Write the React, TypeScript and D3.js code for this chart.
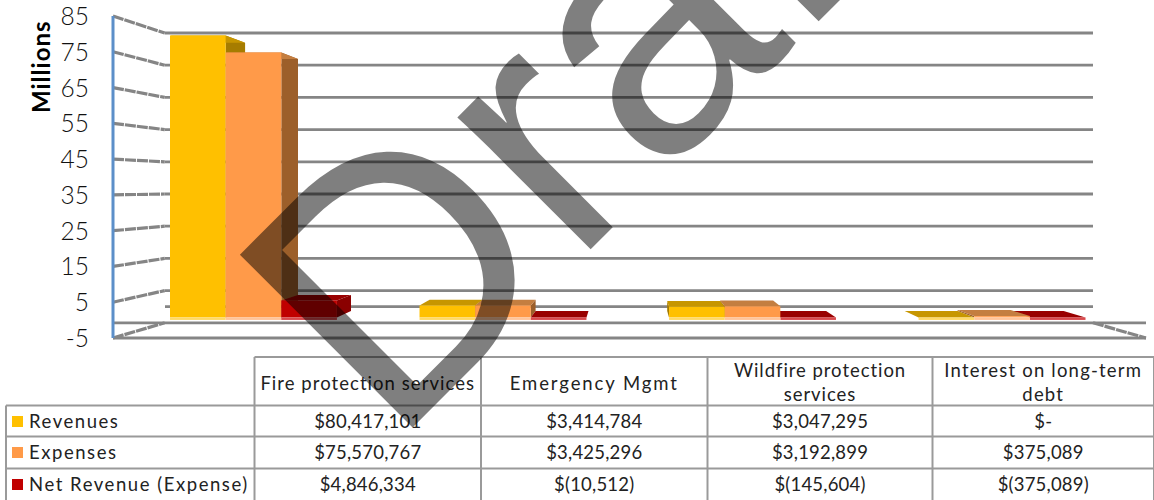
import React from "react";
import * as d3 from "d3";

const categories = ["Fire protection services", "Emergency Mgmt", "Wildfire protection services", "Interest on long-term debt"];
const headerLines = [["Fire protection services"], ["Emergency Mgmt"], ["Wildfire protection", "services"], ["Interest on long-term", "debt"]];
const seriesNames = ["Revenues", "Expenses", "Net Revenue (Expense)"];
const revenues = [80.417101, 3.414784, 3.047295, 0];
const expenses = [75.570767, 3.425296, 3.192899, 0.375089];
const netRevenue = [4.846334, -0.010512, -0.145604, -0.375089];
const revenuesText = ["$80,417,101", "$3,414,784", "$3,047,295", "$-"];
const expensesText = ["$75,570,767", "$3,425,296", "$3,192,899", "$375,089"];
const netText = ["$4,846,334", "$(10,512)", "$(145,604)", "$(375,089)"];
const yTicks = [85, 75, 65, 55, 45, 35, 25, 15, 5, -5];
const front = ["#FFC000", "#FF9A48", "#C00000"];
const topFace = ["#C79600", "#C47E40", "#990000"];
const sideFace = ["#A67C00", "#9C5F2B", "#8A0000"];
const strip = ["#FFD966", "#FFC49A", "#D9484C"];
const headerSpacing = [1.05, 1.9, 0.95, 1.2];

const FONT = "Lato, 'Open Sans', sans-serif";
const GRID = "#858585";
const vx = 630, vy = 186;
const BAR_K0 = 0.02, BAR_K1 = 0.068, WALL_K = 0.1;

const px = (x: number, k: number) => x + (vx - x) * k;
const py = (y: number, k: number) => y + (vy - y) * k;

const yFront = d3.scaleLinear().domain([-5, 85]).range([338, 16]);
const xGroup = d3.scaleBand<number>().domain([0, 1, 2, 3]).range([170, 1085.5]).paddingInner(0.331).paddingOuter(0);
const xSeries = d3.scaleBand<number>().domain([0, 1, 2]).range([0, xGroup.bandwidth()]);

function pts(p: [number, number][]) {
  return p.map(([a, b]) => `${a.toFixed(1)},${b.toFixed(1)}`).join(" ");
}

function Bar({ g, s, v }: { g: number; s: number; v: number }) {
  const x0f = (xGroup(g) as number) + (xSeries(s) as number);
  const x1f = x0f + xSeries.bandwidth();
  const dk = BAR_K1 - BAR_K0;
  const zero = py(yFront(0), BAR_K0);
  const val = py(yFront(Math.max(v, 0)), BAR_K0);
  const base = zero + 2.5;
  const bx = (x: number) => x + (vx - x) * dk;
  const by = (y: number) => y + (vy - y) * dk;
  const edge = x1f < vx ? x1f : x0f;
  return (
    <g>
      <polygon points={pts([[edge, val], [bx(edge), by(val)], [bx(edge), by(zero)], [edge, zero]])} fill={sideFace[s]} />
      <polygon points={pts([[x0f, val], [bx(x0f), by(val)], [bx(x1f), by(val)], [x1f, val]])} fill={topFace[s]} />
      <rect x={x0f} y={val} width={x1f - x0f} height={Math.max(zero - val, 0)} fill={front[s]} />
      <rect x={x0f} y={zero} width={x1f - x0f} height={base - zero} fill={strip[s]} />
    </g>
  );
}

const colX = [254.5, 481, 707.5, 932.5, 1154];
const rowY = [357, 405.5, 436.5, 468.5, 500];
const tableRows = [revenuesText, expensesText, netText];

export default function App() {
  const seriesValues = [revenues, expenses, netRevenue];
  const tableStroke = "#9a9a9a";
  const tfs = 18.5;
  return (
    <svg width={1154} height={500} style={{ position: "fixed", left: 0, top: 0, display: "block", background: "#fff" }} fontFamily={FONT}>
      <defs>
        <filter id="soft" x="-2%" y="-2%" width="104%" height="104%">
          <feGaussianBlur stdDeviation="0.45" />
        </filter>
      </defs>
      <g filter="url(#soft)">
        {yTicks.map((t) => {
          const yf = yFront(t), yb = py(yf, WALL_K);
          return (
            <g key={t}>
              <line x1={px(113, 0)} y1={yf} x2={px(113, WALL_K)} y2={yb} stroke={GRID} strokeWidth={3.2} strokeDasharray="11 1" />
              {t !== -5 && <line x1={px(113, WALL_K)} y1={yb} x2={1093} y2={yb} stroke={GRID} strokeWidth={2.8} />}
            </g>
          );
        })}
        <line x1={165} y1={py(yFront(0), WALL_K)} x2={1093} y2={py(yFront(0), WALL_K)} stroke={GRID} strokeWidth={2.8} />
        <line x1={113} y1={py(yFront(-5), WALL_K)} x2={1146} y2={py(yFront(-5), WALL_K)} stroke={GRID} strokeWidth={2.8} />
        <line x1={113} y1={yFront(-5)} x2={1146} y2={yFront(-5)} stroke={GRID} strokeWidth={2.8} />
        <line x1={1093} y1={py(yFront(-5), WALL_K)} x2={1146} y2={yFront(-5)} stroke={GRID} strokeWidth={3.2} strokeDasharray="11 1" />
        <line x1={113} y1={yFront(85)} x2={113} y2={yFront(-5)} stroke="#5B8FC9" strokeWidth={3} />
        {[0, 1, 2, 3].map((g) => {
          const order = g < 2 ? [0, 1, 2] : [2, 1, 0];
          return order.map((s) => <Bar key={`${g}-${s}`} g={g} s={s} v={seriesValues[s][g]} />);
        })}
      </g>

      {yTicks.map((t) => (
        <text key={t} x={89} y={yFront(t) + 9} textAnchor="end" fontSize={24.5} fontWeight={300} fill="#111">{t}</text>
      ))}
      <text transform="translate(50,113) rotate(-90)" fontSize={24} letterSpacing={1} fontWeight={700} fill="#000" textAnchor="start">Millions</text>

      <g stroke={tableStroke} strokeWidth={2} fill="none">
        <line x1={colX[0]} y1={rowY[0]} x2={1154} y2={rowY[0]} />
        <line x1={6} y1={rowY[1]} x2={1154} y2={rowY[1]} />
        <line x1={6} y1={rowY[2]} x2={1154} y2={rowY[2]} />
        <line x1={6} y1={rowY[3]} x2={1154} y2={rowY[3]} />
        <line x1={6} y1={rowY[1]} x2={6} y2={500} />
        {colX.map((x) => <line key={x} x1={x} y1={rowY[0]} x2={x} y2={500} />)}
      </g>
      {categories.map((c, i) => {
        const cx = (colX[i] + colX[i + 1]) / 2;
        const lines = headerLines[i];
        return (
          <text key={c} textAnchor="middle" fontSize={tfs} letterSpacing={headerSpacing[i]} fill="#222">
            {lines.map((l, j) => (
              <tspan key={l} x={cx} y={lines.length === 1 ? 390 : 377 + j * 24}>{l}</tspan>
            ))}
          </text>
        );
      })}
      {seriesNames.map((n, r) => (
        <g key={n}>
          <rect x={12} y={rowY[r + 1] + 10.5} width={11} height={11} fill={front[r]} />
          <text x={29} y={rowY[r + 1] + 22} fontSize={tfs} letterSpacing={1.55} fill="#222">{n}</text>
        </g>
      ))}
      {tableRows.map((row, r) => row.map((t, i) => (
        <text key={`${r}-${i}`} x={(colX[i] + colX[i + 1]) / 2} y={rowY[r + 1] + 22} textAnchor="middle" fontSize={tfs} letterSpacing={0.2} fill="#222">{t}</text>
      )))}

      <text transform="translate(392,448) rotate(-45)" fontFamily="'Liberation Sans', sans-serif" fontSize={355} fill="#000" fillOpacity={0.5}>Draft</text>
    </svg>
  );
}
